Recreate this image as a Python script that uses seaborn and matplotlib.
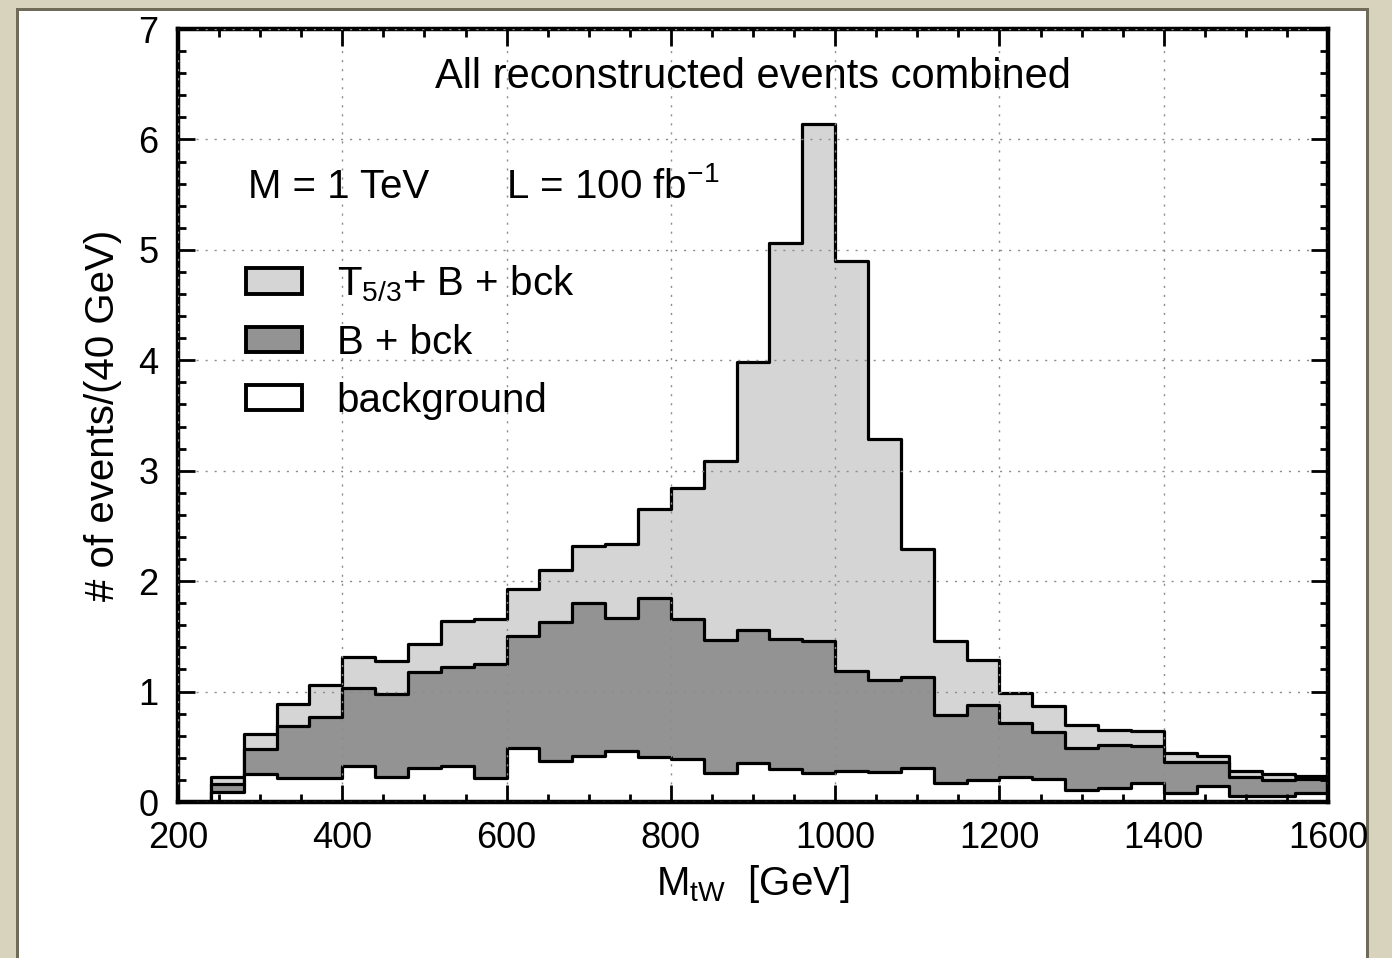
import numpy as np
import pandas as pd
import matplotlib
matplotlib.use("Agg")
import matplotlib.pyplot as plt
from matplotlib.patches import Patch, Rectangle
import seaborn as sns

# ---- data ----
bin_edges = list(range(240, 1601, 40))  # GeV
total_sig = [0.225, 0.616, 0.887, 1.06, 1.316, 1.28, 1.43, 1.64, 1.654, 1.93,
             2.10, 2.32, 2.336, 2.653, 2.84, 3.09, 3.98, 5.065, 6.137, 4.90,
             3.29, 2.29, 1.46, 1.286, 0.984, 0.869, 0.697, 0.652, 0.64, 0.441,
             0.42, 0.282, 0.251, 0.236]
b_plus_bck = [0.16, 0.48, 0.688, 0.767, 1.03, 0.978, 1.18, 1.225, 1.247, 1.503,
              1.633, 1.80, 1.663, 1.85, 1.657, 1.467, 1.557, 1.476, 1.46, 1.189,
              1.105, 1.135, 0.788, 0.878, 0.713, 0.637, 0.486, 0.516, 0.505, 0.365,
              0.362, 0.224, 0.196, 0.21]
background = [0.09, 0.25, 0.214, 0.214, 0.329, 0.229, 0.305, 0.33, 0.214, 0.486,
              0.374, 0.42, 0.465, 0.405, 0.39, 0.266, 0.35, 0.299, 0.26, 0.28,
              0.269, 0.305, 0.169, 0.199, 0.229, 0.205, 0.109, 0.124, 0.175, 0.085,
              0.143, 0.054, 0.054, 0.079]
series_labels = ["T$_{5/3}$+ B + bck", "B + bck", "background"]
xticks = [200, 400, 600, 800, 1000, 1200, 1400, 1600]
yticks = [0, 1, 2, 3, 4, 5, 6, 7]

edges = [float(e) for e in bin_edges]
centers = [0.5 * (a + b) for a, b in zip(edges[:-1], edges[1:])]
df = pd.DataFrame({"m": centers, "total": total_sig, "b": b_plus_bck, "bkg": background})

# ---- style ----
sns.set_style("ticks")
plt.rcParams["font.family"] = ["Liberation Sans", "DejaVu Sans"]
plt.rcParams["mathtext.default"] = "regular"
for k in ["text.color", "axes.labelcolor", "xtick.color", "ytick.color"]:
    plt.rcParams[k] = "black"

light = "#d5d5d5"
dark = "#939393"
FS_TICK = 26
FS = 29

fig = plt.figure(figsize=(13.92, 9.58), dpi=100)
fig.patch.set_facecolor("#d8d3bc")
# white panel with olive border
fig.add_artist(Rectangle((16 / 1392, 0), (1369 - 16) / 1392, (958 - 8) / 958,
                         transform=fig.transFigure, facecolor="#6f6b58",
                         edgecolor="none", zorder=-2))
fig.add_artist(Rectangle((19 / 1392, 0), (1366 - 19) / 1392, (958 - 11) / 958,
                         transform=fig.transFigure, facecolor="white",
                         edgecolor="none", zorder=-1))

ax = fig.add_axes([178 / 1392, 1 - 802 / 958, (1328 - 178) / 1392, (802 - 29) / 958])
ax.set_facecolor("white")

for col, fc in [("total", light), ("b", dark), ("bkg", "white")]:
    sns.histplot(data=df, x="m", weights=col, bins=edges, element="step",
                 fill=True, color=fc, alpha=1, edgecolor="black",
                 linewidth=2.3, ax=ax)

ax.set_xlim(200, 1600)
ax.set_ylim(0, 7)
ax.set_xticks(xticks)
ax.set_yticks(yticks)
ax.set_xticks(np.arange(200, 1601, 50), minor=True)
ax.set_yticks(np.arange(0, 7.01, 0.2), minor=True)
ax.tick_params(which="both", direction="in", top=True, right=True,
               labelsize=FS_TICK, width=2, color="black")
ax.tick_params(axis="x", which="major", pad=14)
ax.tick_params(axis="y", which="major", pad=14)
ax.tick_params(which="major", length=12)
ax.tick_params(which="minor", length=6)
for s in ax.spines.values():
    s.set_linewidth(3.2)
    s.set_color("black")

ax.set_axisbelow(False)
ax.grid(True, which="major", color="#8c8c8c", linestyle=(0, (1.5, 5)), linewidth=1.0)

ax.set_xlabel("M$_{tW}$  [GeV]", fontsize=FS, labelpad=5)
ax.set_ylabel("# of events/(40 GeV)", fontsize=FS, labelpad=12)

ax.text(900, 6.565, "All reconstructed events combined", fontsize=FS + 1,
        ha="center", va="center")
ax.text(285, 5.57, "M = 1 TeV", fontsize=FS, ha="left", va="center")
ax.text(599, 5.57, "L = 100 fb$^{-1}$", fontsize=FS, ha="left", va="center")

handles = [Patch(facecolor=light, edgecolor="black", linewidth=2.8),
           Patch(facecolor=dark, edgecolor="black", linewidth=2.8),
           Patch(facecolor="white", edgecolor="black", linewidth=2.8)]
ax.legend(handles, series_labels, loc="upper left",
          bbox_to_anchor=((246 - 178) / 1150, (802 - 263) / 773),
          frameon=False, fontsize=FS, handlelength=1.38, handleheight=0.6,
          handletextpad=0.87, labelspacing=0.5, borderaxespad=0, borderpad=0)

fig.savefig("out.png", dpi=100, facecolor=fig.get_facecolor())
